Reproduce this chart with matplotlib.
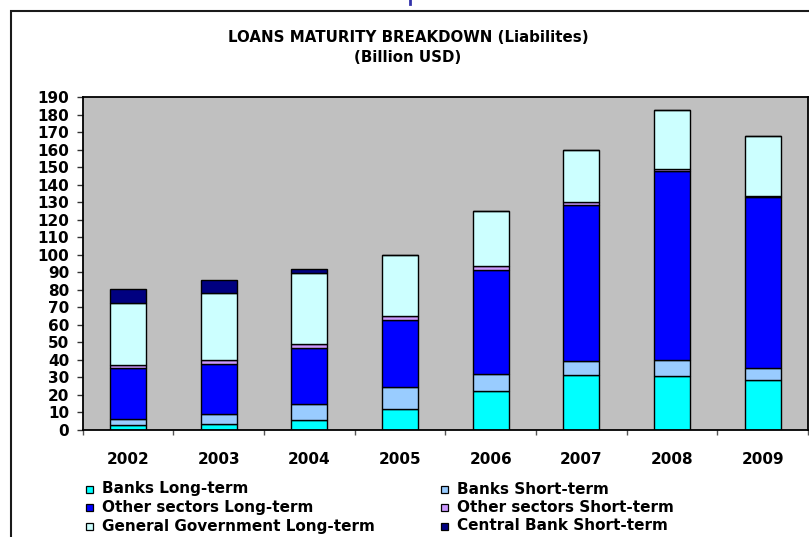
import matplotlib
matplotlib.use("Agg")
import matplotlib.pyplot as plt
from matplotlib.patches import Rectangle
from matplotlib.lines import Line2D
import numpy as np

years = ["2002", "2003", "2004", "2005", "2006", "2007", "2008", "2009"]
banks_long = [3.0, 3.2, 5.7, 12.2, 22.1, 31.2, 30.6, 28.7]
banks_short = [3.5, 5.9, 9.1, 12.1, 9.8, 8.4, 9.5, 6.5]
other_long = [28.7, 28.6, 32.2, 38.7, 59.4, 88.6, 107.5, 97.7]
other_short = [1.7, 2.0, 2.3, 1.9, 2.1, 1.7, 1.5, 0.4]
gov_long = [35.4, 38.3, 40.1, 34.8, 31.5, 29.7, 33.5, 34.6]
central_short = [8.3, 7.8, 2.6, 0.0, 0.0, 0.0, 0.0, 0.0]

series_names = ["Banks Long-term", "Banks Short-term",
                "Other sectors Long-term", "Other sectors Short-term",
                "General Government Long-term", "Central Bank Short-term"]
series_values = [banks_long, banks_short, other_long, other_short,
                 gov_long, central_short]
series_colors = ["#00FFFF", "#99CCFF", "#0000FF", "#CC99FF", "#CCFFFF", "#000080"]

plt.rcParams["font.family"] = ["DejaVu Sans"]
plt.rcParams["font.weight"] = "bold"

W, H = 809, 537
fig = plt.figure(figsize=(W / 100, H / 100), dpi=100)

def fx(px):
    return px / W

def fy(py):
    return 1 - py / H

# outer chart frame
fig.patches.append(Rectangle((fx(11), fy(545)), fx(820) - fx(11), fy(11) - fy(545),
                             transform=fig.transFigure, fill=False,
                             edgecolor="#1a1a1a", linewidth=1.5))

# small blue stroke above the frame
fig.lines.append(Line2D([fx(410), fx(410)], [fy(0), fy(4)],
                        transform=fig.transFigure, color="#3333AA", linewidth=2))

left, right, top, bottom = 82.7, 808, 97, 430
ax = fig.add_axes([fx(left), fy(bottom), fx(right) - fx(left), fy(top) - fy(bottom)])
ax.set_facecolor("#C0C0C0")

x = np.arange(len(years))
base = np.zeros(len(years))
for vals, col in zip(series_values, series_colors):
    v = np.array(vals)
    ax.bar(x, v, width=0.4, bottom=base, color=col, edgecolor="black", linewidth=1.0)
    base += v

ax.set_xlim(-0.5, len(years) - 0.5)
ax.set_ylim(0, 190)
ax.set_yticks(np.arange(0, 191, 10))
ax.set_xticks(x)
ax.set_xticklabels(years)
ax.set_xticks(np.arange(-0.5, len(years), 1.0), minor=True)

ax.tick_params(axis="y", direction="out", length=4.3, width=1, pad=5.5,
               labelsize=11, color="#333333")
ax.tick_params(axis="x", which="major", length=0, pad=16, labelsize=11)
ax.tick_params(axis="x", which="minor", direction="out", length=3.6, width=1,
               color="#555555")
for lab in ax.get_xticklabels() + ax.get_yticklabels():
    lab.set_fontweight("bold")

for s in ax.spines.values():
    s.set_color("black")
    s.set_linewidth(1.3)

# heading
fig.text(fx(408), fy(38), "LOANS MATURITY BREAKDOWN (Liabilites)",
         ha="center", va="center", fontsize=10.8, fontweight="bold")
fig.text(fx(408), fy(58), "(Billion USD)",
         ha="center", va="center", fontsize=10.8, fontweight="bold")

# legend: two columns, three rows
col_x = [86, 441]
row_y = [489, 507.5, 526]
sq = 7
for i, (name, col) in enumerate(zip(series_names, series_colors)):
    r, c = divmod(i, 2)
    mx, my = col_x[c], row_y[r]
    fig.patches.append(Rectangle((fx(mx), fy(my + sq / 2)), fx(sq), sq / H,
                                 transform=fig.transFigure, facecolor=col,
                                 edgecolor="black", linewidth=0.9))
    fig.text(fx(mx + 16), fy(my), name, ha="left", va="center",
             fontsize=11, fontweight="bold")

fig.savefig("out.png", dpi=100)
